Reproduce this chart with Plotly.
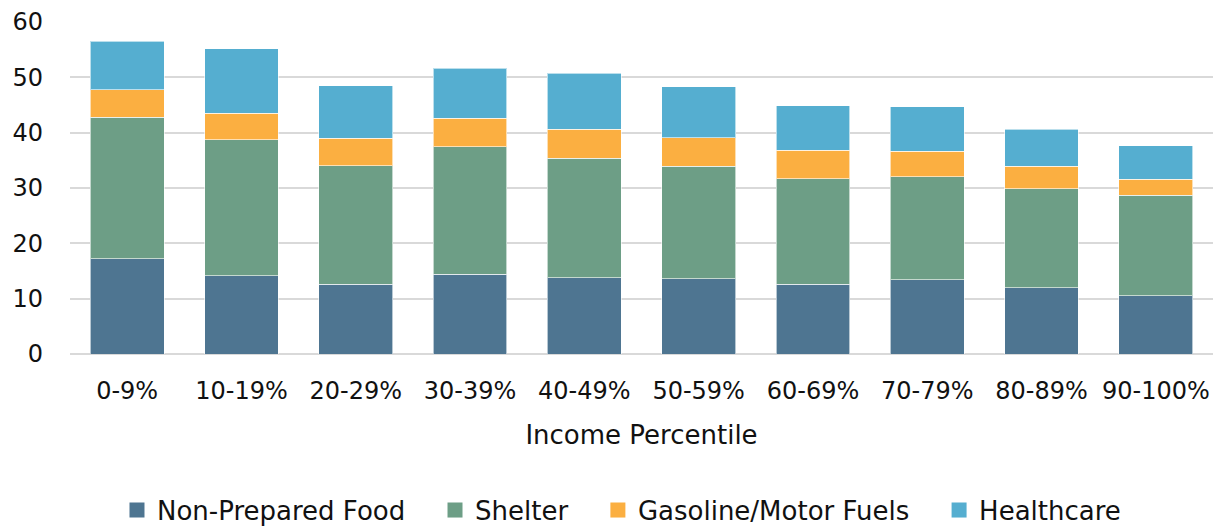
import plotly.graph_objects as go

# Income percentile buckets
percentiles = ["0-9%", "10-19%", "20-29%", "30-39%", "40-49%",
               "50-59%", "60-69%", "70-79%", "80-89%", "90-100%"]

# Share of spending by category for each bucket
non_prepared_food = [17.2, 14.1, 12.6, 14.4, 13.8, 13.6, 12.6, 13.4, 12.0, 10.5]
shelter = [25.6, 24.6, 21.4, 23.1, 21.6, 20.3, 19.1, 18.6, 17.9, 18.2]
gasoline = [5.0, 4.8, 5.0, 5.1, 5.2, 5.2, 5.1, 4.6, 4.0, 2.9]
healthcare = [8.75, 11.7, 9.5, 9.0, 10.1, 9.2, 8.1, 8.1, 6.7, 6.0]

series = [
    ("Non-Prepared Food", non_prepared_food, "#4E7591"),
    ("Shelter", shelter, "#6D9E86"),
    ("Gasoline/Motor Fuels", gasoline, "#FBAF41"),
    ("Healthcare", healthcare, "#55AED0"),
]

FONT = "DejaVu Sans, sans-serif"
PAD = "\u00a0\u00a0\u00a0"  # extra room between legend entries

fig = go.Figure()
for name, vals, color in series:
    fig.add_trace(go.Bar(
        x=percentiles, y=vals, name=name, showlegend=False,
        marker=dict(color=color, line=dict(color="rgba(255,255,255,0.6)", width=1)),
    ))

# Legend entries drawn as square swatches
for i, (name, vals, color) in enumerate(series):
    label = name + (PAD if i < len(series) - 1 else "")
    fig.add_trace(go.Scatter(
        x=[None], y=[None], mode="markers", name=label,
        marker=dict(symbol="square", size=15, color=color),
    ))

fig.update_layout(
    barmode="stack",
    bargap=0.355,
    width=1221, height=527,
    margin=dict(l=70, r=8, t=22, b=173, autoexpand=False),
    plot_bgcolor="white", paper_bgcolor="white",
    font=dict(family=FONT, size=24, color="#111111"),
    showlegend=True,
    legend=dict(
        orientation="h", x=0.509, xanchor="center", xref="container",
        y=0.032, yanchor="middle", yref="container",
        font=dict(size=26), itemwidth=30, traceorder="normal",
    ),
    xaxis=dict(
        title=dict(text="Income Percentile", standoff=21, font=dict(size=26)),
        showgrid=False, ticks="", tickfont=dict(size=24),
        showline=False, ticklabelstandoff=20,
    ),
    yaxis=dict(
        range=[0, 60], dtick=10, showgrid=True, gridcolor="#D9D9D9", gridwidth=2,
        zeroline=True, zerolinecolor="#D9D9D9", zerolinewidth=2,
        ticks="", tickfont=dict(size=24), ticklabelstandoff=26,
    ),
)

fig.write_html("out.html")
